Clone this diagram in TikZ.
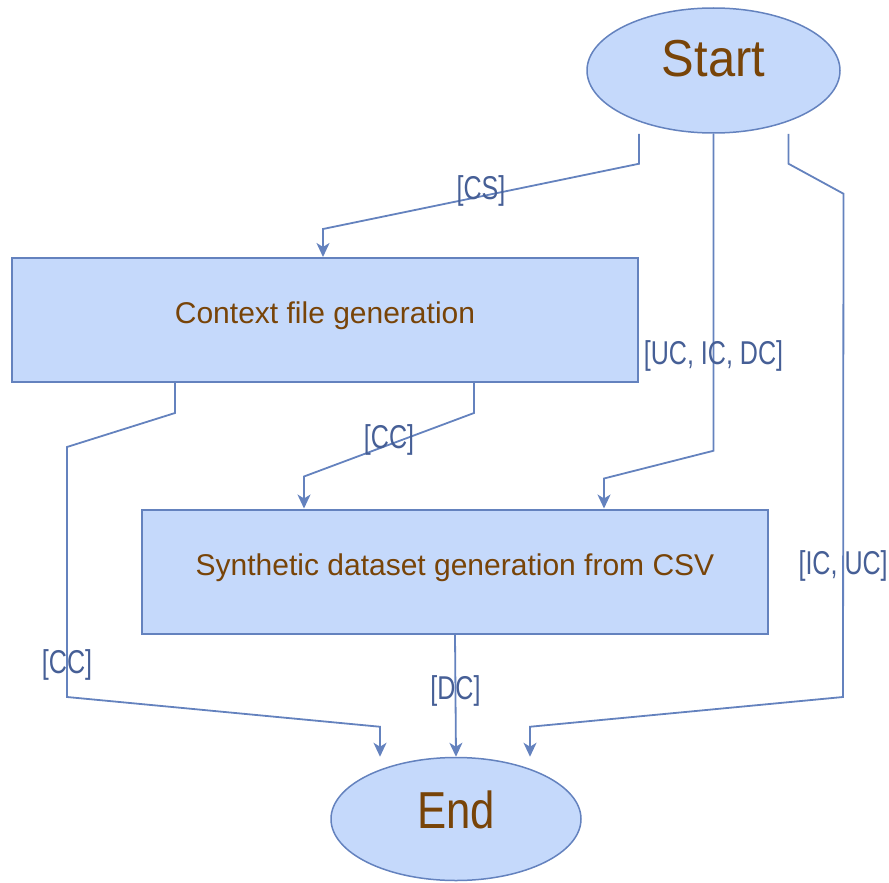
\documentclass[tikz,border=0pt]{standalone}
\usepackage{fontspec}
\setmainfont{Liberation Sans}
\newfontfamily\startfont[FakeStretch=0.94]{Liberation Sans}
\newfontfamily\endfont[FakeStretch=0.84]{Liberation Sans}
\newfontfamily\guardfont[FakeStretch=0.76]{Liberation Sans}
\usetikzlibrary{arrows.meta,calc,shapes.geometric}
\definecolor{flowfill}{RGB}{197,217,251}
\definecolor{flowline}{RGB}{100,130,190}
\definecolor{flowtext}{RGB}{120,68,8}
\definecolor{guardtext}{RGB}{70,95,150}

\begin{document}
\begin{tikzpicture}[x=1pt,y=-1pt,
  terminal/.style={ellipse,draw=flowline,fill=flowfill,line width=1.5pt,inner sep=0pt,
    text=flowtext},
  action/.style={rectangle,draw=flowline,fill=flowfill,line width=2pt,inner sep=0pt,
    text=flowtext,font=\fontsize{30}{30}\selectfont,text depth=14pt,
    minimum width=626pt,minimum height=124pt},
  flow/.style={draw=flowline,line width=1.8pt,-{Stealth[length=14pt,width=13pt,inset=4pt]}},
  guard/.style={text=guardtext,font=\guardfont\fontsize{33}{33}\selectfont,inner sep=0pt}
]
\useasboundingbox (0,0) rectangle (889,883);

% states and actions
\node[terminal,minimum width=253pt,minimum height=125pt,text depth=24pt,
  font=\startfont\fontsize{52}{52}\selectfont] (start) at (713.5,70.5) {Start};
\node[action] (ctx) at (325,320) {Context file generation};
\node[action] (syn) at (455,571.5) {Synthetic dataset generation from CSV};
\node[terminal,minimum width=250pt,minimum height=123pt,text depth=19pt,
  font=\endfont\fontsize{52}{52}\selectfont] (end) at (456,819) {End};

% control flows with guards
\draw[flow] (start.south -| ctx.east) -- ++(0,30)
  -- node[guard,yshift=5pt]{[CS]} ($(ctx.north)+(-2,-28)$) -- ($(ctx.north)+(-2,0)$);
\draw[flow] (start.south) -- node[guard,pos=0.7]{[UC, IC, DC]} ++(0,317)
  -- ($(syn.north)+(149,-30)$) -- ($(syn.north)+(149,0)$);
\draw[flow] ($(start.south)+(75,0)$) -- ++(0,30) -- ++(55,30)
  -- node[guard,pos=0.74]{[IC, UC]} (843,697)
  -- ($(end.north)+(74,-30)$) -- ($(end.north)+(74,0)$);
\draw[flow] ($(ctx.south)+(-150,0)$) -- ++(0,30) -- (67,447)
  -- node[guard,pos=0.87]{[CC]} (67,697)
  -- ($(end.north)+(-76,-30)$) -- ($(end.north)+(-76,0)$);
\draw[flow] ($(ctx.south)+(149,0)$) -- ++(0,30)
  -- node[guard,yshift=5pt]{[CC]} ($(syn.north)+(-151,-32)$) -- ($(syn.north)+(-151,0)$);
\draw[flow] (syn.south) -- node[guard,pos=0.46]{[DC]} (end.north);
\end{tikzpicture}
\end{document}
